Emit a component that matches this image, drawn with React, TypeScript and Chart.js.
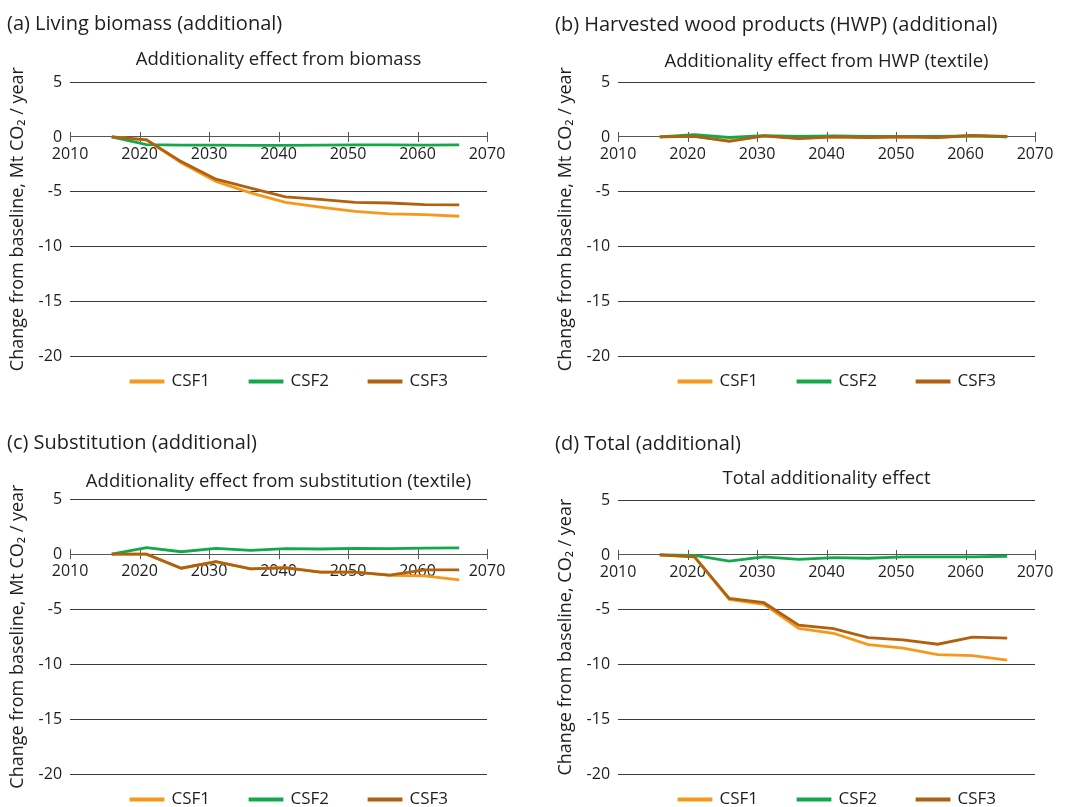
import React, { useEffect, useRef } from "react";
import { Chart, registerables } from "chart.js";

Chart.register(...registerables);

// Simulation years (every five years, 2016–2066)
const years = [2016, 2021, 2026, 2031, 2036, 2041, 2046, 2051, 2056, 2061, 2066];

const seriesNames = ["CSF1", "CSF2", "CSF3"];
const seriesColors = ["#f7981c", "#14a84b", "#b0600e"];

// (a) Living biomass, change from baseline (Mt CO2 / year)
const biomassCSF1 = [0, -0.27, -2.35, -4.06, -5.1, -5.97, -6.4, -6.8, -7.03, -7.1, -7.24];
const biomassCSF2 = [0, -0.7, -0.75, -0.75, -0.76, -0.77, -0.75, -0.72, -0.72, -0.75, -0.73];
const biomassCSF3 = [0, -0.27, -2.25, -3.85, -4.67, -5.48, -5.7, -5.97, -6.03, -6.18, -6.2];

// (b) Harvested wood products
const hwpCSF1 = [0, 0.05, -0.35, 0.1, -0.12, 0, -0.05, 0, -0.03, 0.1, 0.02];
const hwpCSF2 = [0, 0.2, -0.05, 0.12, 0.05, 0.1, 0.05, 0.05, 0.05, 0.1, 0.0];
const hwpCSF3 = [0, 0.05, -0.4, 0.1, -0.15, 0, -0.05, 0, -0.05, 0.15, 0.05];

// (c) Substitution
const substCSF1 = [0, 0, -1.28, -0.68, -1.34, -1.2, -1.64, -1.64, -1.93, -1.97, -2.33];
const substCSF2 = [0, 0.6, 0.22, 0.52, 0.35, 0.5, 0.47, 0.53, 0.5, 0.55, 0.58];
const substCSF3 = [0, 0, -1.28, -0.68, -1.34, -1.25, -1.64, -1.64, -1.9, -1.43, -1.43];

// (d) Total
const totalCSF1 = [0, -0.18, -4.06, -4.5, -6.7, -7.15, -8.18, -8.5, -9.1, -9.2, -9.6];
const totalCSF2 = [0, -0.03, -0.57, -0.18, -0.4, -0.24, -0.3, -0.18, -0.18, -0.18, -0.12];
const totalCSF3 = [0, -0.18, -3.97, -4.36, -6.4, -6.73, -7.55, -7.76, -8.15, -7.5, -7.6];

const panelTitles = [
  "(a) Living biomass (additional)",
  "(b) Harvested wood products (HWP) (additional)",
  "(c) Substitution (additional)",
  "(d) Total (additional)",
];
const panelSubtitles = [
  "Additionality effect from biomass",
  "Additionality effect from HWP (textile)",
  "Additionality effect from substitution (textile)",
  "Total additionality effect",
];
const yAxisTitles = [
  "Change from baseline, Mt CO\u2082 / year",
  "Change from baseline, Mt CO\u2082 / year",
  "Change from baseline, Mt CO\u2082 / year",
  "Change from baseline, CO\u2082 / year",
];
const panelSeries = [
  [biomassCSF1, biomassCSF2, biomassCSF3],
  [hwpCSF1, hwpCSF2, hwpCSF3],
  [substCSF1, substCSF2, substCSF3],
  [totalCSF1, totalCSF2, totalCSF3],
];

// Panel placement and per-panel heading spacing
const panelLeft = [0, 548, 0, 548];
const panelTop = [0, 0, 418, 418];
const titlePadTop = [12, 13, 13, 14];
const titlePadBottom = [13, 14, 16, 12];
const subtitlePadBottom = [11, 9, 6, 10];

const FONT = "'Open Sans', 'DejaVu Sans', sans-serif";
const TEXT = "#1e1e1e";
const CANVAS_W = 520;
const CANVAS_H = 418;

// Tick marks that cross the zero line at each decade
const crossTicks = {
  id: "crossTicks",
  beforeDatasetsDraw(chart: any) {
    const xs = chart.scales.x;
    const ys = chart.scales.y;
    const y0 = ys.getPixelForValue(0);
    const ctx = chart.ctx;
    ctx.save();
    ctx.strokeStyle = "#555";
    ctx.lineWidth = 1;
    xs.ticks.forEach((t: any) => {
      const px = Math.round(xs.getPixelForValue(t.value)) + 0.5;
      ctx.beginPath();
      ctx.moveTo(px, y0 - 5);
      ctx.lineTo(px, y0 + 5);
      ctx.stroke();
    });
    ctx.restore();
  },
};

// Pull the legend row up closer to the plot and nudge it right
const legendNudge = {
  id: "legendNudge",
  afterLayout(chart: any) {
    const lg = chart.legend;
    if (!lg) return;
    lg.top -= 23;
    lg.bottom -= 23;
    lg.left += 11;
    lg.right += 11;
  },
};

function Panel({ index }: { index: number }) {
  const ref = useRef<HTMLCanvasElement | null>(null);

  useEffect(() => {
    if (!ref.current) return;
    const values = panelSeries[index];
    const chart = new Chart(ref.current, {
      type: "line",
      data: {
        datasets: seriesNames.map((name, i) => ({
          label: name,
          data: years.map((yr, k) => ({ x: yr, y: values[i][k] })),
          borderColor: seriesColors[i],
          backgroundColor: seriesColors[i],
          borderWidth: 2.8,
          pointRadius: 0,
          tension: 0,
          fill: false,
          order: 3 - i,
        })),
      },
      options: {
        responsive: false,
        animation: false,
        layout: { padding: { left: 7, right: 33, top: 0, bottom: -5 } },
        scales: {
          x: {
            type: "linear",
            position: { y: 0 } as any,
            min: 2010,
            max: 2070,
            grid: { display: false, drawTicks: false },
            border: { display: true, color: "#555", width: 1 },
            ticks: {
              stepSize: 10,
              padding: 8,
              color: TEXT,
              font: { family: FONT, size: 16 },
              callback: (v: any) => String(v),
              maxRotation: 0,
            },
          },
          y: {
            min: -20,
            max: 5,
            grid: {
              drawTicks: false,
              color: (c: any) => (c.tick && c.tick.value === 0 ? "rgba(0,0,0,0)" : "#3a3a3a"),
              lineWidth: 1,
            },
            border: { display: false },
            ticks: {
              stepSize: 5,
              padding: 8,
              color: TEXT,
              font: { family: FONT, size: 16 },
            },
            title: {
              display: true,
              text: yAxisTitles[index],
              color: TEXT,
              font: { family: FONT, size: 18 },
              padding: { top: 0, bottom: 2 },
            },
          },
        },
        plugins: {
          title: {
            display: true,
            text: panelTitles[index],
            align: "start",
            color: TEXT,
            font: { family: FONT, size: 20, weight: "normal" },
            padding: { top: titlePadTop[index], bottom: titlePadBottom[index] },
          },
          subtitle: {
            display: true,
            text: panelSubtitles[index],
            fullSize: false,
            color: TEXT,
            font: { family: FONT, size: 18.5 },
            padding: { top: 0, bottom: subtitlePadBottom[index] },
          },
          legend: {
            position: "bottom",
            fullSize: false,
            labels: {
              boxWidth: 32,
              boxHeight: 1,
              padding: 40,
              color: TEXT,
              font: { family: FONT, size: 17 },
              sort: (a: any, b: any) => a.datasetIndex - b.datasetIndex,
            },
          },
          tooltip: { enabled: false },
        },
      },
      plugins: [crossTicks, legendNudge],
    });
    return () => chart.destroy();
  }, [index]);

  return (
    <canvas
      ref={ref}
      width={CANVAS_W}
      height={CANVAS_H}
      style={{
        position: "absolute",
        left: panelLeft[index],
        top: panelTop[index],
        width: CANVAS_W,
        height: CANVAS_H,
      }}
    />
  );
}

export default function App() {
  return (
    <div
      style={{
        position: "fixed",
        left: 0,
        top: 0,
        width: 1068,
        height: 807,
        overflow: "hidden",
        background: "#ffffff",
      }}
    >
      {[0, 1, 2, 3].map((i) => (
        <Panel key={i} index={i} />
      ))}
    </div>
  );
}
